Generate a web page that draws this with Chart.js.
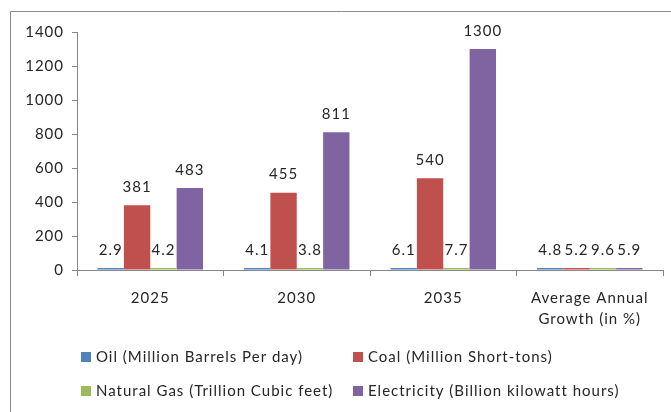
<!DOCTYPE html>
<html>
<head>
<meta charset="utf-8">
<script src="https://cdn.jsdelivr.net/npm/chart.js@4/dist/chart.umd.min.js"></script>
<style>
  html, body { margin: 0; padding: 0; background: #fff; }
  #wrap { width: 671px; height: 412px; }
</style>
</head>
<body>
<div id="wrap"><canvas id="chart" width="671" height="412"></canvas></div>
<script>
var categories = ['2025', '2030', '2035', ['Average Annual', 'Growth (in %)']];
var seriesNames = [
    'Oil (Million Barrels Per day)',
    'Coal (Million Short-tons)',
    'Natural Gas (Trillion Cubic feet)',
    'Electricity (Billion kilowatt hours)'
];
var oil = [2.9, 4.1, 6.1, 4.8];
var coal = [381, 455, 540, 5.2];
var gas = [4.2, 3.8, 7.7, 9.6];
var electricity = [483, 811, 1300, 5.9];
var yTicks = [0, 200, 400, 600, 800, 1000, 1200, 1400];

var colors = ['#4F81BD', '#C0504D', '#9BBB59', '#8064A2'];
var fontFamily = 'Lato, "Open Sans", sans-serif';
var textColor = '#262626';
var axisColor = '#868686';
var spacing = '1px';

// the text in this chart is set a little loose
var looseText = {
    id: 'looseText',
    beforeLayout: function(chart) { chart.ctx.letterSpacing = spacing; },
    beforeDraw: function(chart) { chart.ctx.letterSpacing = spacing; }
};

// value labels above each bar
var valueLabels = {
    id: 'valueLabels',
    afterDatasetsDraw: function(chart) {
        var ctx = chart.ctx;
        ctx.save();
        ctx.letterSpacing = spacing;
        ctx.font = '15px ' + fontFamily;
        ctx.fillStyle = textColor;
        ctx.textAlign = 'center';
        ctx.textBaseline = 'middle';
        chart.data.datasets.forEach(function(ds, i) {
            chart.getDatasetMeta(i).data.forEach(function(bar, j) {
                ctx.fillText(String(ds.data[j]), bar.x, bar.y - 18);
            });
        });
        ctx.restore();
    }
};

// two-column legend underneath plus the outer frame
var bottomLegend = {
    id: 'bottomLegend',
    afterDraw: function(chart) {
        var ctx = chart.ctx;
        ctx.save();
        ctx.strokeStyle = '#8c8c8c';
        ctx.lineWidth = 1;
        ctx.beginPath();
        ctx.moveTo(10.5, 420);
        ctx.lineTo(10.5, 11.5);
        ctx.lineTo(680, 11.5);
        ctx.stroke();

        var cols = [81, 353];
        var rows = [357, 391];
        ctx.letterSpacing = spacing;
        ctx.font = '15px ' + fontFamily;
        ctx.textBaseline = 'middle';
        ctx.textAlign = 'left';
        chart.data.datasets.forEach(function(ds, i) {
            var x = cols[i % 2];
            var y = rows[Math.floor(i / 2)];
            ctx.fillStyle = ds.backgroundColor;
            ctx.fillRect(x, y - 5, 10, 10);
            ctx.fillStyle = textColor;
            ctx.fillText(ds.label, x + 15, y);
        });
        ctx.restore();
    }
};

var seriesData = [oil, coal, gas, electricity];

new Chart(document.getElementById('chart'), {
    type: 'bar',
    data: {
        labels: categories,
        datasets: seriesData.map(function(values, i) {
            return {
                label: seriesNames[i],
                data: values,
                backgroundColor: colors[i],
                borderWidth: 0,
                minBarLength: 2,
                categoryPercentage: 0.72,
                barPercentage: 1.0
            };
        })
    },
    options: {
        responsive: false,
        animation: false,
        layout: { padding: { top: 32, right: 8, left: 0, bottom: 0 } },
        plugins: {
            legend: { display: false },
            tooltip: { enabled: false }
        },
        scales: {
            x: {
                afterFit: function(scale) { scale.height = 142; },
                grid: {
                    offset: true,
                    drawOnChartArea: false,
                    color: axisColor,
                    tickLength: 6
                },
                border: { color: axisColor },
                ticks: {
                    color: textColor,
                    padding: 12,
                    maxRotation: 0,
                    font: { family: fontFamily, size: 15, lineHeight: 1.4 }
                }
            },
            y: {
                min: 0,
                max: 1400,
                afterFit: function(scale) { scale.width = 77; },
                afterBuildTicks: function(scale) {
                    scale.ticks = yTicks.map(function(v) { return { value: v }; });
                },
                grid: {
                    drawOnChartArea: false,
                    color: axisColor,
                    tickLength: 5
                },
                border: { color: axisColor },
                ticks: {
                    color: textColor,
                    padding: 8,
                    callback: function(v) { return String(v); },
                    font: { family: fontFamily, size: 15 }
                }
            }
        }
    },
    plugins: [looseText, valueLabels, bottomLegend]
});
</script>
</body>
</html>
